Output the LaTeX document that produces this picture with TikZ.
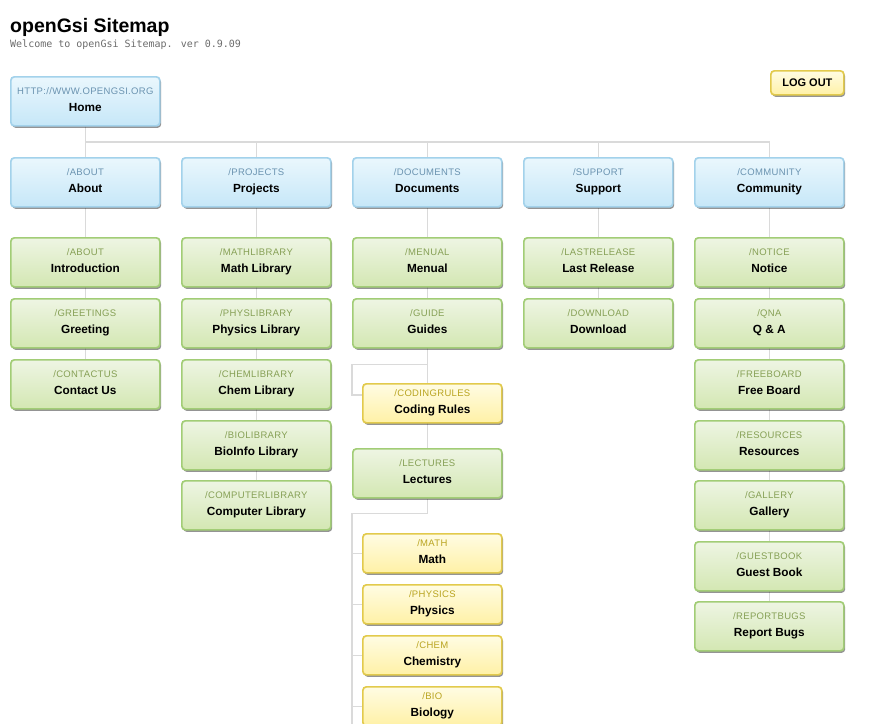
\documentclass[tikz,border=0pt]{standalone}
\usepackage{fontspec}
\setmainfont{Liberation Sans}
\newfontfamily\monofont{DejaVu Sans Mono}
\newfontfamily\subfont[LetterSpace=3.5]{Liberation Sans}
\usetikzlibrary{shadows,backgrounds,calc}
\definecolor{conncol}{HTML}{DADADA}
\definecolor{bluetop}{HTML}{EAF7FD}
\definecolor{bluebot}{HTML}{C6E7F8}
\definecolor{bluebrd}{HTML}{A3D2EB}
\definecolor{blueboxsub}{HTML}{6A93B0}
\definecolor{greentop}{HTML}{EEF5E3}
\definecolor{greenbot}{HTML}{D3E7B2}
\definecolor{greenbrd}{HTML}{A2CD76}
\definecolor{greenboxsub}{HTML}{86A055}
\definecolor{yellowtop}{HTML}{FFFCE3}
\definecolor{yellowbot}{HTML}{FFF1A6}
\definecolor{yellowbrd}{HTML}{E2CA4C}
\definecolor{yellowboxsub}{HTML}{B9A420}
\tikzset{
  basebox/.style={line width=1.7pt, rounded corners=3.5pt, inner sep=0pt,
    drop shadow={shadow xshift=1.3pt, shadow yshift=-2pt, fill=black, opacity=0.42}},
  bluebox/.style={basebox, draw=bluebrd, top color=bluetop, bottom color=bluebot},
  greenbox/.style={basebox, draw=greenbrd, top color=greentop, bottom color=greenbot},
  yellowbox/.style={basebox, draw=yellowbrd, top color=yellowtop, bottom color=yellowbot},
  subtxt/.style={inner sep=0pt, anchor=base, font=\subfont\fontsize{9.5}{11}\selectfont},
  maintxt/.style={inner sep=0pt, anchor=base, font=\bfseries\fontsize{11.8}{13}\selectfont},
  conn/.style={draw=conncol, line width=1.5pt}
}
% name, x, y, w, h, style, sub, main
\newcommand\mybox[8]{%
  \node[#6, minimum width=#4pt, minimum height=#5pt, anchor=north west] (#1) at (#2,#3) {};
  \node[subtxt, text=#6sub] (#1-s) at ([yshift=6.5pt]#1.center) {#7};
  \node[maintxt] (#1-m) at ([yshift=-10.5pt]#1.center) {#8};
}
\begin{document}
\begin{tikzpicture}[x=1pt,y=-1pt]
\useasboundingbox (0,0) rectangle (874,723);
\clip (0,0) rectangle (874,723);
\node[anchor=base west, inner sep=0pt, font=\bfseries\fontsize{19.5}{22}\selectfont] (title) at (10,32) {openGsi Sitemap};
\node[anchor=base west, inner sep=0pt, text=black!58, font=\monofont\fontsize{10}{12}\selectfont] (subtitle) at (10,47.5) {Welcome to openGsi Sitemap. ver 0.9.09};
\node[yellowbox, minimum width=73pt, minimum height=24pt, anchor=north west, font=\bfseries\fontsize{11}{12}\selectfont] (logout) at (770,70) {LOG OUT};

\mybox{home}{10}{76}{149}{49}{bluebox}{HTTP://WWW.OPENGSI.ORG}{Home}

\mybox{about}{10}{157}{149}{49}{bluebox}{/ABOUT}{About}
\mybox{projects}{181}{157}{149}{49}{bluebox}{/PROJECTS}{Projects}
\mybox{documents}{352}{157}{149}{49}{bluebox}{/DOCUMENTS}{Documents}
\mybox{support}{523}{157}{149}{49}{bluebox}{/SUPPORT}{Support}
\mybox{community}{694}{157}{149}{49}{bluebox}{/COMMUNITY}{Community}

\mybox{intro}{10}{237}{149}{49}{greenbox}{/ABOUT}{Introduction}
\mybox{greet}{10}{298}{149}{49}{greenbox}{/GREETINGS}{Greeting}
\mybox{contact}{10}{359}{149}{49}{greenbox}{/CONTACTUS}{Contact Us}

\mybox{mathlib}{181}{237}{149}{49}{greenbox}{/MATHLIBRARY}{Math Library}
\mybox{physlib}{181}{298}{149}{49}{greenbox}{/PHYSLIBRARY}{Physics Library}
\mybox{chemlib}{181}{359}{149}{49}{greenbox}{/CHEMLIBRARY}{Chem Library}
\mybox{biolib}{181}{420}{149}{49}{greenbox}{/BIOLIBRARY}{BioInfo Library}
\mybox{complib}{181}{480}{149}{49}{greenbox}{/COMPUTERLIBRARY}{Computer Library}

\mybox{menual}{352}{237}{149}{49}{greenbox}{/MENUAL}{Menual}
\mybox{guides}{352}{298}{149}{49}{greenbox}{/GUIDE}{Guides}
\mybox{coding}{362}{383}{139}{39}{yellowbox}{/CODINGRULES}{Coding Rules}
\mybox{lectures}{352}{448}{149}{49}{greenbox}{/LECTURES}{Lectures}
\mybox{ymath}{362}{533}{139}{39}{yellowbox}{/MATH}{Math}
\mybox{yphys}{362}{584}{139}{39}{yellowbox}{/PHYSICS}{Physics}
\mybox{ychem}{362}{635}{139}{39}{yellowbox}{/CHEM}{Chemistry}
\mybox{ybio}{362}{686}{139}{39}{yellowbox}{/BIO}{Biology}

\mybox{lastrel}{523}{237}{149}{49}{greenbox}{/LASTRELEASE}{Last Release}
\mybox{download}{523}{298}{149}{49}{greenbox}{/DOWNLOAD}{Download}

\mybox{notice}{694}{237}{149}{49}{greenbox}{/NOTICE}{Notice}
\mybox{qna}{694}{298}{149}{49}{greenbox}{/QNA}{Q \& A}
\mybox{freeboard}{694}{359}{149}{49}{greenbox}{/FREEBOARD}{Free Board}
\mybox{resources}{694}{420}{149}{49}{greenbox}{/RESOURCES}{Resources}
\mybox{gallery}{694}{480}{149}{49}{greenbox}{/GALLERY}{Gallery}
\mybox{guest}{694}{541}{149}{49}{greenbox}{/GUESTBOOK}{Guest Book}
\mybox{report}{694}{601}{149}{49}{greenbox}{/REPORTBUGS}{Report Bugs}

\begin{pgfonlayer}{background}
\foreach \nm in {about,projects,documents,support,community}
  \draw[conn] (home.south) |- ([yshift=15pt]\nm.north) -- (\nm.north);
\draw[conn] (about.south) -- (contact.north);
\draw[conn] (projects.south) -- (complib.north);
\draw[conn] (documents.south) -- (lectures.north);
\draw[conn] (support.south) -- (download.north);
\draw[conn] (community.south) -- (report.north);
\draw[conn] (guides.south) -- ++(0,16) -| ([xshift=-10pt,yshift=-12pt]coding.north west) -- ([yshift=-12pt]coding.north west);
\draw[conn] (lectures.south) -- ++(0,15) -| ([xshift=-10pt,yshift=-60pt]ybio.west);
\foreach \nm in {ymath,yphys,ychem,ybio}
  \draw[conn] ([xshift=-10pt]\nm.west) -- (\nm.west);
\end{pgfonlayer}
\end{tikzpicture}
\end{document}
